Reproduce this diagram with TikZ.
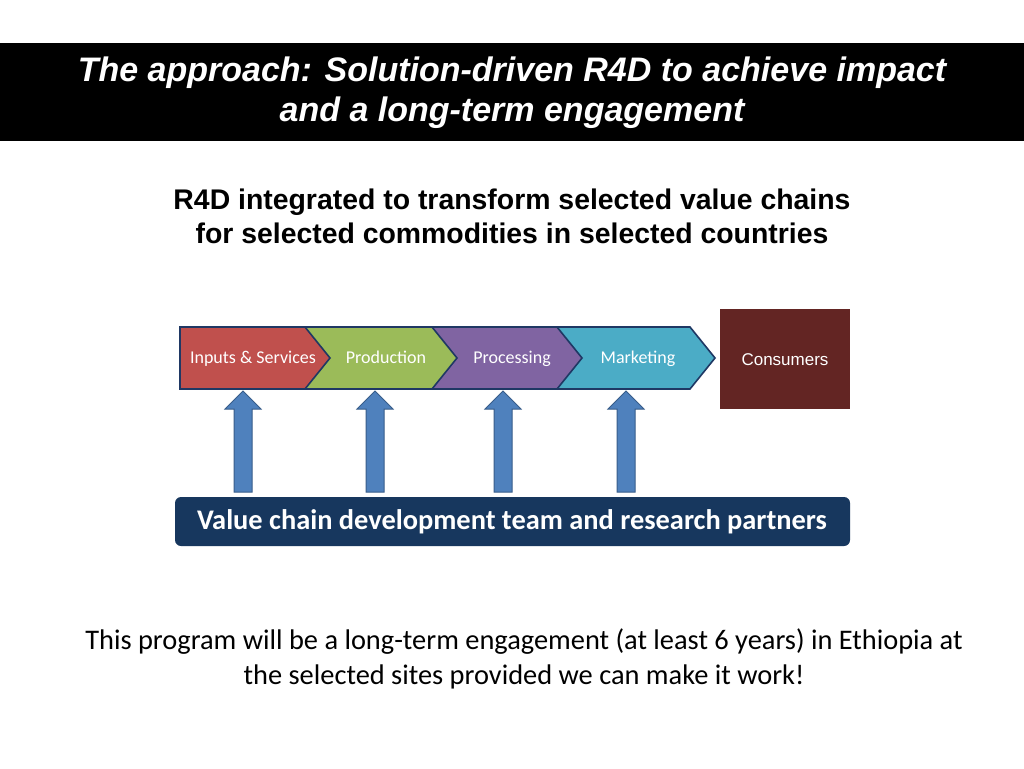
\documentclass[tikz,border=0pt]{standalone}
\usepackage{fontspec}
\setmainfont{Liberation Sans}
\newfontfamily\carl{Carlito}
\usetikzlibrary{arrows.meta}
\definecolor{navy}{HTML}{1F3864}
\definecolor{barblue}{HTML}{17375E}
\definecolor{cred}{HTML}{C0504D}
\definecolor{cgreen}{HTML}{9BBB59}
\definecolor{cpurple}{HTML}{8064A2}
\definecolor{ccyan}{HTML}{4BACC6}
\definecolor{cons}{HTML}{632523}
\definecolor{arrblue}{HTML}{4F81BD}
\definecolor{arredge}{HTML}{385D8A}
\begin{document}
\begin{tikzpicture}[x=1pt,y=-1pt,
  chev/.style={draw=navy,line width=1.6pt,line join=miter},
  lab/.style={text=white,font=\carl\fontsize{18}{20}\selectfont,anchor=base},
  barrow/.style={fill=arrblue,draw=arredge,line width=1pt}]
\useasboundingbox (0,0) rectangle (1024,768);
\fill[white] (0,0) rectangle (1024,768);
\fill[black] (0,43) rectangle (1024,141);
\node[text=white,align=center,font=\bfseries\itshape\fontsize{34}{40}\selectfont] (title) at (512,93) {The approach: Solution-driven R4D to achieve impact\\and a long-term engagement};
\node[align=center,font=\bfseries\fontsize{28.4}{34}\selectfont] (sub) at (512,216) {R4D integrated to transform selected value chains\\for selected commodities in selected countries};
\filldraw[chev,fill=cred] (180,327) -- (310,327) -- (335,358) -- (310,389) -- (180,389) -- cycle;
\filldraw[chev,fill=cgreen] (305,327) -- (435,327) -- (460,358) -- (435,389) -- (305,389) -- (330,358) -- cycle;
\filldraw[chev,fill=cpurple] (432,327) -- (560,327) -- (585,358) -- (560,389) -- (432,389) -- (457,358) -- cycle;
\filldraw[chev,fill=ccyan] (557,327) -- (690,327) -- (715,358) -- (690,389) -- (557,389) -- (582,358) -- cycle;
\node[lab] (inp) at (253,363) {Inputs \& Services};
\node[lab] (prod) at (386,363) {Production};
\node[lab] (proc) at (512,363) {Processing};
\node[lab] (mark) at (638,363) {Marketing};
\fill[cons] (720,309) rectangle (850,409);
\node[text=white,font=\fontsize{17}{20}\selectfont] (consumers) at (785,360) {Consumers};
\foreach \cx in {243,375,503,626}{
  \filldraw[barrow] (\cx-9,492) -- (\cx-9,409) -- (\cx-18,409) -- (\cx,391) -- (\cx+18,409) -- (\cx+9,409) -- (\cx+9,492) -- cycle;
}
\fill[barblue,rounded corners=6pt] (175,497) rectangle (850,546);
\node[text=white,font=\carl\bfseries\fontsize{28.4}{30}\selectfont] (team) at (512,522) {Value chain development team and research partners};
\node[align=center,font=\carl\fontsize{28.4}{35}\selectfont] (foot) at (524,659) {This program will be a long-term engagement (at least 6 years) in Ethiopia at\\the selected sites provided we can make it work!};
\end{tikzpicture}
\end{document}
